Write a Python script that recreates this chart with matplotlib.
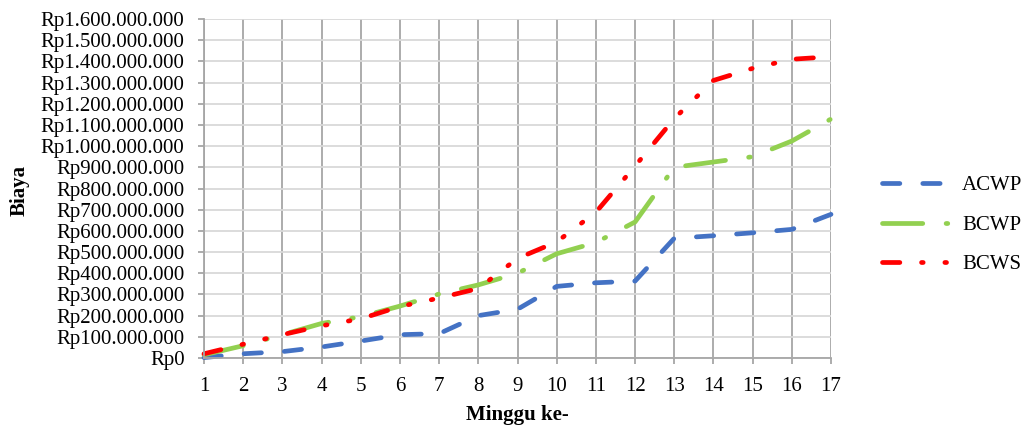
import matplotlib
matplotlib.use("Agg")
import matplotlib.pyplot as plt
from matplotlib.ticker import FuncFormatter, MultipleLocator

weeks = list(range(1, 18))
acwp = [2e6, 20e6, 30e6, 52e6, 80e6, 110e6, 115e6, 200e6, 230e6, 338e6, 355e6, 363e6,
        565e6, 577e6, 591e6, 607e6, 678e6]
bcwp = [15e6, 58e6, 110e6, 163e6, 195e6, 245e6, 302e6, 345e6, 400e6, 492e6, 545e6, 642e6,
        900e6, 925e6, 950e6, 1024e6, 1128e6]
bcws = [20e6, 65e6, 110e6, 152e6, 185e6, 243e6, 283e6, 328e6, 470e6, 548e6, 688e6, 906e6,
        1130e6, 1310e6, 1367e6, 1410e6, 1422e6]
series_names = ["ACWP", "BCWP", "BCWS"]

plt.rcParams['font.family'] = ['Liberation Serif', 'DejaVu Serif']
plt.rcParams['lines.scale_dashes'] = False

fig = plt.figure(figsize=(10.24, 4.28), dpi=100)
ax = fig.add_axes([204/1024, 1-358/428, (831-204)/1024, (358-19)/428])

lw = 3.4
styles = {
    "ACWP": dict(color="#4472C4", dashes=(12.5, 16.5)),
    "BCWP": dict(color="#92D050", dashes=(29, 16.8, 1.2, 16.8)),
    "BCWS": dict(color="#FF0000", dashes=(12.5, 15.6, 1.2, 15.6, 1.2, 15.6)),
}
for name, vals in zip(series_names, [acwp, bcwp, bcws]):
    st = styles[name]
    ax.plot(weeks, vals, color=st["color"], lw=lw, dashes=st["dashes"],
            dash_capstyle="round", solid_capstyle="round", label=name, clip_on=False)

ax.set_xlim(1, 17)
ax.set_ylim(0, 1.6e9)
ax.xaxis.set_major_locator(MultipleLocator(1))
ax.yaxis.set_major_locator(MultipleLocator(1e8))

def rp(v, pos):
    n = int(round(v))
    s = f"{n:,}".replace(",", ".")
    return "Rp" + s
ax.yaxis.set_major_formatter(FuncFormatter(rp))

ax.grid(axis='y', color="#d9d9d9", lw=1.3)
ax.grid(axis='x', color="#a6a6a6", lw=1.3)
ax.set_axisbelow(True)
for s in ["top", "right"]:
    ax.spines[s].set_visible(False)
ax.spines["left"].set_color("#a6a6a6")
ax.spines["bottom"].set_color("#a6a6a6")
ax.spines["left"].set_linewidth(1.3)
ax.spines["bottom"].set_linewidth(1.3)
ax.tick_params(axis='both', direction='out', length=4, color="#a6a6a6", width=1.3,
               labelsize=15)
ax.tick_params(axis='y', pad=10)
ax.tick_params(axis='x', pad=10)

fig.text(20/1024, 1-190/428, "Biaya", rotation=90, fontsize=15, fontweight='bold',
         ha='center', va='center')
fig.text(517/1024, 1-415/428, "Minggu ke-", fontsize=15, fontweight='bold',
         ha='center', va='center')

fig.legend(loc='center left', bbox_to_anchor=(882/1024, 1-225/428), frameon=False,
           fontsize=15, handlelength=3.6, handletextpad=0.25, labelspacing=0.95,
           borderaxespad=0, borderpad=0)

fig.savefig("out.png", dpi=100)
